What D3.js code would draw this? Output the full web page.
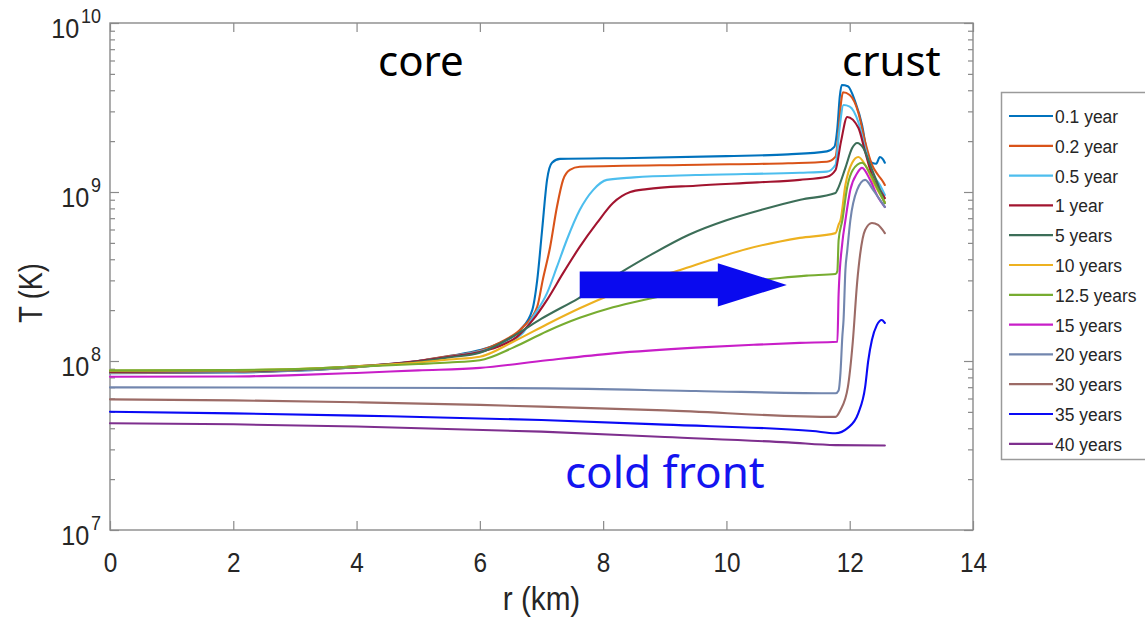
<!DOCTYPE html>
<html>
<head>
<meta charset="utf-8">
<script src="https://cdn.jsdelivr.net/npm/d3@7"></script>
<style>
  html, body { margin: 0; padding: 0; background: #fff; }
  svg { display: block; }
</style>
</head>
<body>
<svg id="chart" width="1145" height="624"></svg>
<script>
// Temperature profiles T(r) of a cooling star, one series per epoch.
const epochLabels = ["0.1 year", "0.2 year", "0.5 year", "1 year", "5 years", "10 years",
                     "12.5 years", "15 years", "20 years", "30 years", "35 years", "40 years"];

// [r (km), T (K)]
const t01 = [[0,8.47e7],[2,8.55e7],[3,8.75e7],[4,9.2e7],[5,1.0e8],[5.5,1.07e8],[6.0,1.16e8],[6.33,1.28e8],[6.65,1.52e8],[6.85,2.0e8],[6.93,3.0e8],[7.01,5.96e8],[7.09,1.18e9],[7.17,1.49e9],[7.3,1.57e9],[8.5,1.59e9],[10,1.63e9],[11,1.67e9],[11.63,1.74e9],[11.75,1.85e9],[11.8,2.4e9],[11.84,3.7e9],[11.87,4.3e9],[11.97,4.22e9],[12.09,3.41e9],[12.2,2.49e9],[12.28,1.73e9],[12.36,1.49e9],[12.43,1.47e9],[12.49,1.61e9],[12.54,1.56e9],[12.57,1.49e9]];
const t02 = [[0,8.51e7],[2,8.6e7],[3,8.8e7],[4,9.2e7],[5,1.0e8],[5.5,1.07e8],[6.0,1.15e8],[6.33,1.29e8],[6.7,1.59e8],[6.93,2.09e8],[7.02,3.01e8],[7.14,4.73e8],[7.25,8.15e8],[7.35,1.18e9],[7.46,1.35e9],[7.62,1.41e9],[9.57,1.45e9],[11,1.48e9],[11.63,1.51e9],[11.77,1.62e9],[11.82,2.3e9],[11.86,3.4e9],[11.89,3.89e9],[12.0,3.75e9],[12.14,2.95e9],[12.25,1.98e9],[12.36,1.45e9],[12.46,1.26e9],[12.54,1.15e9],[12.57,1.10e9]];
const t05 = [[0,8.55e7],[2,8.65e7],[3,8.8e7],[4,9.25e7],[5,1.0e8],[5.5,1.06e8],[6.0,1.14e8],[6.33,1.245e8],[6.7,1.47e8],[6.86,1.82e8],[7.09,2.52e8],[7.25,3.6e8],[7.41,5.2e8],[7.62,7.82e8],[7.84,1.03e9],[8.06,1.18e9],[8.5,1.22e9],[9.5,1.26e9],[11.19,1.3e9],[11.63,1.32e9],[11.77,1.45e9],[11.83,2.3e9],[11.9,3.27e9],[12.0,3.2e9],[12.14,2.59e9],[12.25,1.82e9],[12.36,1.31e9],[12.49,1.1e9],[12.57,9.6e8]];
const t1 = [[0,8.61e7],[2,8.7e7],[3,8.85e7],[4,9.3e7],[5,1.0e8],[5.5,1.06e8],[6.0,1.13e8],[6.28,1.21e8],[6.6,1.39e8],[6.86,1.75e8],[7.09,2.3e8],[7.35,3.31e8],[7.62,4.73e8],[7.9,6.56e8],[8.16,8.61e8],[8.44,1.0e9],[8.71,1.04e9],[9.5,1.09e9],[10.5,1.14e9],[11.19,1.18e9],[11.63,1.23e9],[11.77,1.35e9],[11.86,2.0e9],[11.96,2.78e9],[12.14,2.4e9],[12.25,1.73e9],[12.36,1.26e9],[12.49,1.03e9],[12.57,9.2e8]];
const t5 = [[0,8.7e7],[2,8.75e7],[3,8.9e7],[4,9.3e7],[5,9.9e7],[5.5,1.05e8],[6.0,1.12e8],[6.54,1.4e8],[7.0,1.78e8],[7.6,2.35e8],[8.2,3.2e8],[8.8,4.3e8],[9.4,5.6e8],[10.0,6.8e8],[10.6,7.9e8],[11.2,9.0e8],[11.77,9.86e8],[11.8,1.03e9],[11.93,1.39e9],[12.04,1.82e9],[12.12,1.95e9],[12.22,1.82e9],[12.33,1.45e9],[12.44,1.15e9],[12.57,8.6e8]];
const t10 = [[0,8.75e7],[2,8.8e7],[3,8.95e7],[4,9.3e7],[5,9.8e7],[5.5,1.02e8],[6.0,1.06e8],[6.54,1.3e8],[7.09,1.65e8],[7.62,2.05e8],[8.16,2.5e8],[8.71,3.0e8],[9.25,3.45e8],[9.78,4.0e8],[10.33,4.6e8],[10.87,5.1e8],[11.19,5.35e8],[11.77,5.71e8],[11.82,6.4e8],[11.85,6.8e8],[11.93,1.1e9],[12.04,1.49e9],[12.14,1.61e9],[12.25,1.45e9],[12.38,1.15e9],[12.57,8.7e8]];
const t125 = [[0,8.8e7],[2,8.85e7],[3,8.95e7],[4,9.25e7],[5,9.6e7],[5.5,9.8e7],[6.0,1.01e8],[6.54,1.2e8],[7.09,1.5e8],[7.62,1.8e8],[8.16,2.08e8],[8.71,2.32e8],[9.25,2.55e8],[9.78,2.75e8],[10.33,2.95e8],[10.87,3.1e8],[11.3,3.2e8],[11.77,3.27e8],[11.8,3.4e8],[11.82,5.2e8],[11.88,6.8e8],[11.96,1.07e9],[12.05,1.35e9],[12.2,1.49e9],[12.33,1.29e9],[12.46,1.03e9],[12.57,8.6e8]];
const t15 = [[0,8.07e7],[2,8.1e7],[3,8.25e7],[4,8.5e7],[5,8.8e7],[6,9.1e7],[7.09,1.01e8],[8.16,1.11e8],[9.5,1.2e8],[10.5,1.25e8],[11.19,1.28e8],[11.8,1.3e8],[11.82,2.5e8],[11.88,5.0e8],[11.93,6.8e8],[12.01,1.03e9],[12.12,1.29e9],[12.2,1.39e9],[12.33,1.18e9],[12.46,9.3e8],[12.57,8.15e8]];
const t20 = [[0,6.98e7],[4,6.95e7],[7.1,6.89e7],[9.5,6.65e7],[11.77,6.44e7],[11.82,6.7e7],[11.85,8.5e7],[11.88,1.39e8],[11.9,1.75e8],[11.93,3.45e8],[11.96,4.5e8],[12.01,6.8e8],[12.12,1.03e9],[12.25,1.18e9],[12.38,1.03e9],[12.49,9.0e8],[12.57,8.15e8]];
const t30 = [[0,5.93e7],[2,5.85e7],[4,5.7e7],[6,5.5e7],[7,5.37e7],[9,5.1e7],[11.77,4.67e7],[11.85,5.13e7],[11.97,7.0e7],[12.05,1.3e8],[12.12,2.9e8],[12.17,4.3e8],[12.25,5.96e8],[12.36,6.56e8],[12.46,6.38e8],[12.57,5.71e8]];
const t35 = [[0,5.01e7],[2,4.9e7],[4,4.75e7],[7,4.48e7],[9,4.2e7],[11.4,3.85e7],[11.77,3.74e7],[11.97,4.02e7],[12.14,4.92e7],[12.25,7.0e7],[12.3,1.0e8],[12.36,1.33e8],[12.44,1.63e8],[12.52,1.75e8],[12.57,1.68e8]];
const t40 = [[0,4.28e7],[2,4.22e7],[4,4.1e7],[7,3.82e7],[9,3.55e7],[11,3.3e7],[11.77,3.18e7],[12.57,3.16e7]];

const profiles = [t01, t02, t05, t1, t5, t10, t125, t15, t20, t30, t35, t40];
const lineColors = ["#0072BD", "#D95319", "#4DBEEE", "#A2142F", "#3C6E58", "#EDB120",
                    "#77AC30", "#C81EC8", "#7286AE", "#9C6B66", "#0A0AF5", "#7E2F8E"];

const xTicks = [0, 2, 4, 6, 8, 10, 12, 14];
const yDecades = [7, 8, 9, 10];

// annotation anchor points in data units
const arrowTail = [7.62, 2.82e8];
const arrowTip = [10.98, 2.82e8];

const svg = d3.select("#chart");
const box = { left: 110, right: 973, top: 23, bottom: 530 };

const x = d3.scaleLinear().domain([0, 14]).range([box.left, box.right]);
const y = d3.scaleLog().domain([1e7, 1e10]).range([box.bottom, box.top]);

const axisColor = "#8a8a8a";
const labelColor = "#262626";

const majorT = yDecades.map(k => Math.pow(10, k));
const minorT = [];
yDecades.slice(0, -1).forEach(k => { for (let m = 2; m <= 9; m++) minorT.push(m * Math.pow(10, k)); });

function styleAxis(g) {
  g.select(".domain").remove();
  g.selectAll(".tick line").attr("stroke", axisColor).attr("stroke-width", 1.2);
}

// inward ticks on all four sides
svg.append("g").attr("transform", `translate(0,${box.bottom})`)
  .call(d3.axisBottom(x).tickValues(xTicks).tickSize(-9).tickPadding(22).tickFormat(d3.format("d")))
  .call(styleAxis)
  .call(g => g.selectAll(".tick text")
    .attr("fill", labelColor).attr("font-family", "Liberation Sans, Arial, sans-serif")
    .attr("font-size", 28).attr("transform", "scale(0.87,1)"));
svg.append("g").attr("transform", `translate(0,${box.top})`)
  .call(d3.axisTop(x).tickValues(xTicks).tickSize(-9).tickFormat(""))
  .call(styleAxis);
svg.append("g").attr("transform", `translate(${box.left},0)`)
  .call(d3.axisLeft(y).tickValues(majorT).tickSize(-9).tickFormat(""))
  .call(styleAxis);
svg.append("g").attr("transform", `translate(${box.left},0)`)
  .call(d3.axisLeft(y).tickValues(minorT).tickSize(-5).tickFormat(""))
  .call(styleAxis);
svg.append("g").attr("transform", `translate(${box.right},0)`)
  .call(d3.axisRight(y).tickValues(majorT).tickSize(-9).tickFormat(""))
  .call(styleAxis);
svg.append("g").attr("transform", `translate(${box.right},0)`)
  .call(d3.axisRight(y).tickValues(minorT).tickSize(-5).tickFormat(""))
  .call(styleAxis);

// plot frame
svg.append("rect")
  .attr("x", box.left).attr("y", box.top)
  .attr("width", box.right - box.left).attr("height", box.bottom - box.top)
  .attr("fill", "none").attr("stroke", axisColor).attr("stroke-width", 1.4);

// power-of-ten tick labels
yDecades.forEach(k => {
  const t = svg.append("text")
    .attr("transform", `translate(101,${y(Math.pow(10, k)) + 15}) scale(0.9,1)`)
    .attr("text-anchor", "end")
    .attr("fill", labelColor)
    .attr("font-family", "Liberation Sans, Arial, sans-serif");
  t.append("tspan").attr("font-size", 28).text("10");
  t.append("tspan").attr("font-size", 20).attr("dx", 2).attr("dy", -15).text(String(k));
});

// axis titles
svg.append("text")
  .attr("transform", `translate(${(box.left + box.right) / 2},610) scale(0.9,1)`)
  .attr("text-anchor", "middle").attr("fill", labelColor)
  .attr("font-family", "Liberation Sans, Arial, sans-serif").attr("font-size", 33)
  .text("r (km)");
svg.append("text")
  .attr("transform", "translate(42,293) rotate(-90) scale(0.82,1)")
  .attr("text-anchor", "middle").attr("fill", labelColor)
  .attr("font-family", "Liberation Sans, Arial, sans-serif").attr("font-size", 33)
  .text("T (K)");

// profiles
const line = d3.line()
  .x(d => x(d[0]))
  .y(d => y(d[1]))
  .curve(d3.curveMonotoneX);

svg.append("g").attr("fill", "none").attr("stroke-width", 2.1)
  .attr("stroke-linejoin", "round").attr("stroke-linecap", "round")
  .selectAll("path").data(profiles).join("path")
  .attr("stroke", (d, i) => lineColors[i])
  .attr("d", line);

// region labels
svg.append("text").attr("x", 378).attr("y", 76)
  .attr("font-family", "Noto Sans, Open Sans, sans-serif").attr("font-size", 42)
  .attr("fill", "#000").text("core");
svg.append("text").attr("x", 842).attr("y", 76)
  .attr("font-family", "Noto Sans, Open Sans, sans-serif").attr("font-size", 42)
  .attr("fill", "#000").text("crust");

// cold-front arrow
const ax0 = x(arrowTail[0]), ax1 = x(arrowTip[0]), ay = y(arrowTail[1]);
const shaftHalf = 13.3, headHalf = 21.7, headLen = 69;
svg.append("path")
  .attr("fill", "#0A0AEF")
  .attr("d", `M${ax0},${ay - shaftHalf} L${ax1 - headLen},${ay - shaftHalf} L${ax1 - headLen},${ay - headHalf}
              L${ax1},${ay} L${ax1 - headLen},${ay + headHalf} L${ax1 - headLen},${ay + shaftHalf}
              L${ax0},${ay + shaftHalf} Z`);
svg.append("text").attr("x", 565).attr("y", 488)
  .attr("font-family", "Noto Sans, Open Sans, sans-serif").attr("font-size", 44)
  .attr("fill", "#1414F0").text("cold front");

// legend
const lg = svg.append("g");
lg.append("rect").attr("x", 1001.5).attr("y", 92.5).attr("width", 160).attr("height", 367)
  .attr("fill", "#fff").attr("stroke", "#9a9a9a").attr("stroke-width", 1.5);
const rowY = i => 116 + i * 29.8;
epochLabels.forEach((lab, i) => {
  lg.append("line").attr("x1", 1009).attr("x2", 1053).attr("y1", rowY(i)).attr("y2", rowY(i))
    .attr("stroke", lineColors[i]).attr("stroke-width", 2.2);
  lg.append("text").attr("transform", `translate(1055,${rowY(i) + 7}) scale(0.92,1)`)
    .attr("font-family", "Liberation Sans, Arial, sans-serif").attr("font-size", 19)
    .attr("fill", labelColor).text(lab);
});
</script>
</body>
</html>
